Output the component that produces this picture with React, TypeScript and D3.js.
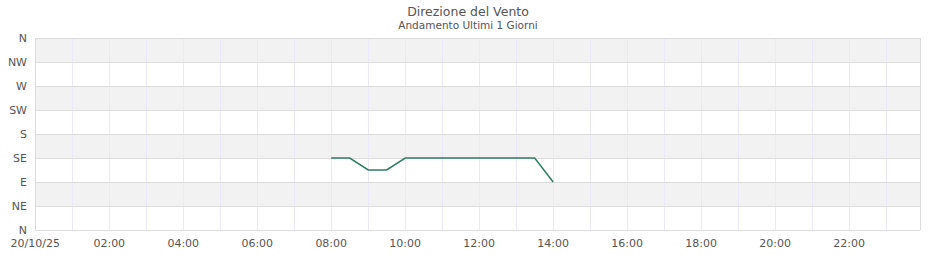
import React from "react";
import * as d3 from "d3";

const times = ["08:00","08:30","09:00","09:30","10:00","10:30","11:00","11:30","12:00","12:30","13:00","13:30","14:00"];
const directions = [135,135,112.5,112.5,135,135,135,135,135,135,135,135,90];
const yTickValues = [0,45,90,135,180,225,270,315,360];
const yTickLabels = ["N","NE","E","SE","S","SW","W","NW","N"];
const xTickHours = [0,2,4,6,8,10,12,14,16,18,20,22];
const xTickLabels = ["20/10/25","02:00","04:00","06:00","08:00","10:00","12:00","14:00","16:00","18:00","20:00","22:00"];
const title = "Direzione del Vento";
const subtitle = "Andamento Ultimi 1 Giorni";

const W = 940, H = 260;
const FONT = "DejaVu Sans, sans-serif";

function toHours(t: string) {
  const [h, m] = t.split(":").map(Number);
  return h + m / 60;
}

export default function App() {
  const x = d3.scaleLinear().domain([0, 23 + 55 / 60]).range([35.3, 920]);
  const y = d3.scaleLinear().domain([0, 360]).range([230, 38]);
  const hours = d3.range(0, 24);
  const line = d3.line<number>()
    .x((_, i) => x(toHours(times[i])))
    .y((d) => y(d));
  const bands = d3.range(0, 8);
  return (
    <div style={{ position: "absolute", left: 0, top: 0 }}>
      <svg width={W} height={H} style={{ display: "block", fontFamily: FONT }}>
        <rect x={0} y={0} width={W} height={H} fill="#fff" />
        {bands.map((b) => (
          <rect key={b}
            x={x(0)} y={y(yTickValues[b + 1])}
            width={x(23 + 55 / 60) - x(0)} height={y(yTickValues[b]) - y(yTickValues[b + 1])}
            fill={b % 2 === 1 ? "#f2f2f2" : "#ffffff"} />
        ))}
        {hours.map((h) => (
          <line key={"v" + h} x1={Math.round(x(h)) + 0.5} x2={Math.round(x(h)) + 0.5}
            y1={y(360)} y2={y(0)} stroke="#ebe8fa" strokeWidth={1} />
        ))}
        {yTickValues.map((v, i) => (
          <line key={"h" + i} x1={x(0)} x2={920} y1={Math.round(y(v)) + 0.5} y2={Math.round(y(v)) + 0.5}
            stroke="#dcdcdc" strokeWidth={1} />
        ))}
        <line x1={Math.round(x(0)) + 0.5} x2={Math.round(x(0)) + 0.5} y1={y(360)} y2={y(0)} stroke="#dcdcdc" />
        <line x1={920.5} x2={920.5} y1={y(360)} y2={y(0)} stroke="#dcdcdc" />
        <path d={line(directions) || ""} fill="none" stroke="#2e7d60" strokeWidth={1.5} />
        {yTickValues.map((v, i) => (
          <text key={"yt" + i} x={27} y={y(v)} dy="0.35em" textAnchor="end" fontSize={11} fill="#555">
            {yTickLabels[i]}
          </text>
        ))}
        {xTickHours.map((h, i) => (
          <text key={"xt" + i} x={x(h)} y={247} textAnchor="middle" fontSize={11} fill="#555">
            {xTickLabels[i]}
          </text>
        ))}
        <text x={468} y={16} textAnchor="middle" fontSize={12.5} fill="#555">{title}</text>
        <text x={468} y={29} textAnchor="middle" fontSize={10.5} fill="#555">{subtitle}</text>
      </svg>
    </div>
  );
}
